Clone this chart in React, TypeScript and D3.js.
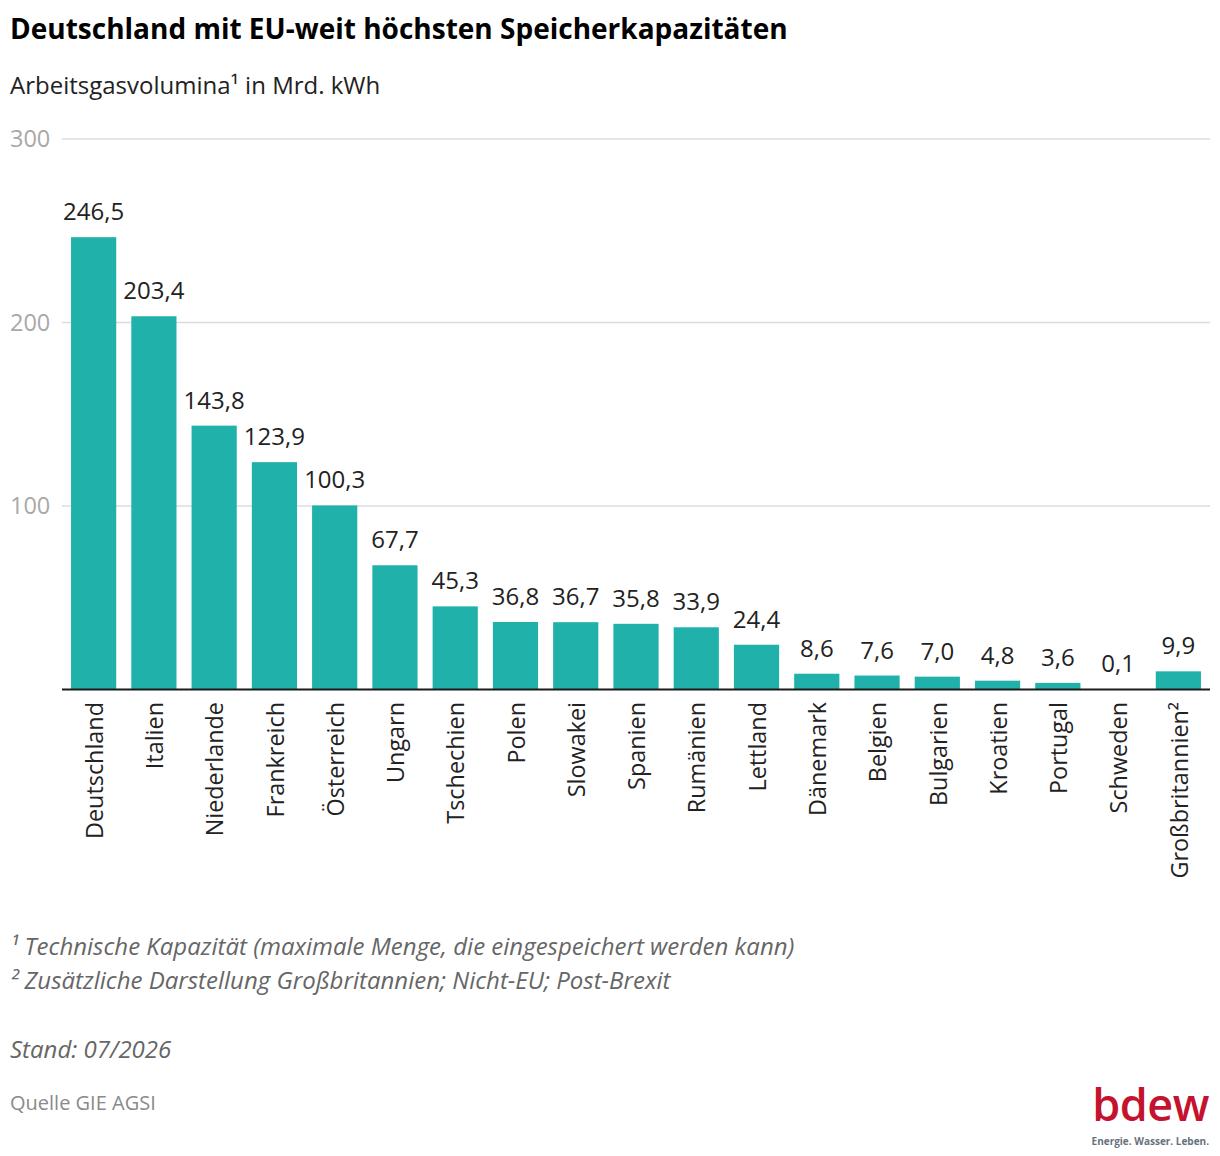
import { useEffect, useRef } from "react";
import * as d3 from "d3";

const countries = [
  "Deutschland",
  "Italien",
  "Niederlande",
  "Frankreich",
  "Österreich",
  "Ungarn",
  "Tschechien",
  "Polen",
  "Slowakei",
  "Spanien",
  "Rumänien",
  "Lettland",
  "Dänemark",
  "Belgien",
  "Bulgarien",
  "Kroatien",
  "Portugal",
  "Schweden",
  "Großbritannien²",
];
const volumes = [
  246.5, 203.4, 143.8, 123.9, 100.3, 67.7, 45.3, 36.8, 36.7, 35.8, 33.9, 24.4,
  8.6, 7.6, 7.0, 4.8, 3.6, 0.1, 9.9,
];
const yTicks = [100, 200, 300];
const footnotes = [
  "¹ Technische Kapazität (maximale Menge, die eingespeichert werden kann)",
  "² Zusätzliche Darstellung Großbritannien; Nicht-EU; Post-Brexit",
];

const W = 1220;
const H = 1156;
const FONT = "'Open Sans', sans-serif";

const App = () => {
  const ref = useRef<SVGSVGElement | null>(null);

  useEffect(() => {
    if (!ref.current) return;
    const svg = d3.select(ref.current);
    svg.selectAll("*").remove();

    const x = d3
      .scaleBand<string>()
      .domain(countries)
      .range([62, 1210])
      .paddingInner(0.25)
      .paddingOuter(0.15);
    const y = d3.scaleLinear().domain([0, 300]).range([689.5, 139]);

    const fmt = (v: number) => d3.format(".1f")(v).replace(".", ",");

    // title block
    svg
      .append("text")
      .attr("x", 10)
      .attr("y", 39)
      .attr("font-size", 28)
      .attr("font-weight", 700)
      .attr("fill", "#000")
      .text("Deutschland mit EU-weit höchsten Speicherkapazitäten");
    svg
      .append("text")
      .attr("x", 10)
      .attr("y", 94)
      .attr("font-size", 24)
      .attr("fill", "#222")
      .text("Arbeitsgasvolumina¹ in Mrd. kWh");

    // grid
    const grid = svg.append("g");
    grid
      .selectAll("line")
      .data(yTicks)
      .enter()
      .append("line")
      .attr("x1", 62)
      .attr("x2", 1210)
      .attr("y1", d => y(d))
      .attr("y2", d => y(d))
      .attr("stroke", "#dcdcdc")
      .attr("stroke-width", 1.5);
    grid
      .selectAll("text")
      .data(yTicks)
      .enter()
      .append("text")
      .attr("x", 10)
      .attr("y", d => y(d))
      .attr("dy", "0.35em")
      .attr("font-size", 23.5)
      .attr("fill", "#a8a8a8")
      .text(d => d);

    // bars
    svg
      .append("g")
      .selectAll("rect")
      .data(volumes)
      .enter()
      .append("rect")
      .attr("x", (_, i) => x(countries[i])!)
      .attr("width", x.bandwidth())
      .attr("y", d => y(d))
      .attr("height", d => y(0) - y(d))
      .attr("fill", "#20b2aa");

    // value labels
    svg
      .append("g")
      .selectAll("text")
      .data(volumes)
      .enter()
      .append("text")
      .attr("x", (_, i) => x(countries[i])! + x.bandwidth() / 2)
      .attr("y", d => y(d) - 17)
      .attr("text-anchor", "middle")
      .attr("font-size", 24)
      .attr("fill", "#222")
      .text(d => fmt(d));

    // baseline
    svg
      .append("line")
      .attr("x1", 62)
      .attr("x2", 1210)
      .attr("y1", y(0))
      .attr("y2", y(0))
      .attr("stroke", "#1a1a1a")
      .attr("stroke-width", 2);

    // category labels
    svg
      .append("g")
      .selectAll("text")
      .data(countries)
      .enter()
      .append("text")
      .attr(
        "transform",
        d => `translate(${x(d)! + x.bandwidth() / 2 + 1},702) rotate(-90)`
      )
      .attr("text-anchor", "end")
      .attr("dy", "0.35em")
      .attr("font-size", 23.4)
      .attr("fill", "#222")
      .text(d => d);

    // footnotes
    svg
      .append("g")
      .selectAll("text")
      .data(footnotes)
      .enter()
      .append("text")
      .attr("x", 10)
      .attr("y", (_, i) => 955 + i * 34)
      .attr("font-size", 24)
      .attr("font-style", "italic")
      .attr("fill", "#666")
      .text(d => d);
    svg
      .append("text")
      .attr("x", 10)
      .attr("y", 1058)
      .attr("font-size", 24)
      .attr("font-style", "italic")
      .attr("fill", "#666")
      .text("Stand: 07/2026");
    svg
      .append("text")
      .attr("x", 10)
      .attr("y", 1110)
      .attr("font-size", 20)
      .attr("fill", "#8a8a8a")
      .text("Quelle GIE AGSI");

    // logo
    svg
      .append("text")
      .attr("x", 1209)
      .attr("y", 1121)
      .attr("text-anchor", "end")
      .attr("font-size", 45)
      .attr("font-weight", 600)
      .attr("letter-spacing", -0.5)
      .attr("fill", "#c4122f")
      .text("bdew");
    svg
      .append("text")
      .attr("x", 1209)
      .attr("y", 1145)
      .attr("text-anchor", "end")
      .attr("font-size", 10)
      .attr("font-weight", 700)
      .attr("fill", "#68727c")
      .text("Energie. Wasser. Leben.");
  }, []);

  return (
    <div style={{ position: "absolute", left: 0, top: 0, background: "#fff" }}>
      <svg
        ref={ref}
        width={W}
        height={H}
        viewBox={`0 0 ${W} ${H}`}
        style={{ display: "block", fontFamily: FONT }}
      />
    </div>
  );
};

export default App;
